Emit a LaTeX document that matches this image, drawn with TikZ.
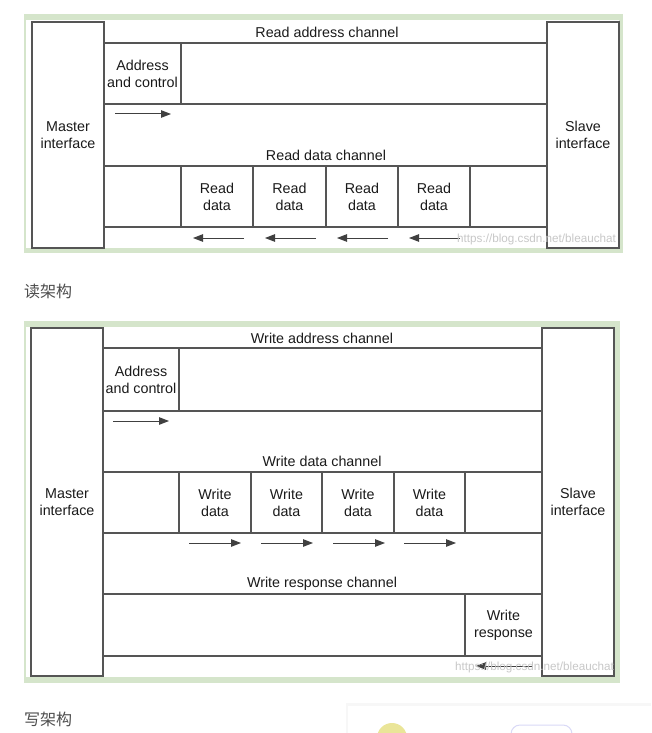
\documentclass[tikz,border=0pt]{standalone}
\usepackage{fontspec}
\setmainfont{Liberation Sans}
\newfontfamily\cjk{Noto Sans CJK SC}
\usetikzlibrary{arrows.meta}
\definecolor{framegreen}{HTML}{D5E5CB}
\definecolor{linec}{HTML}{555555}
\definecolor{txt}{HTML}{1A1A1A}
\definecolor{captc}{HTML}{4D4D4D}
\definecolor{wmark}{HTML}{C8C8C8}
\newcommand{\fs}{\fontsize{14.3}{17.2}\selectfont}
\tikzset{
  box/.style={draw=linec, line width=1.2pt, inner sep=0pt, align=center, font=\fs, text=txt},
  lbl/.style={inner sep=0pt, font=\fs, text=txt},
  arr/.style={draw=black!75, line width=1pt, -{Triangle[length=10pt,width=7.5pt]}},
  caption/.style={inner sep=0pt, anchor=west, font=\cjk\fontsize{16}{19}\selectfont, text=captc},
  watermark/.style={inner sep=0pt, anchor=west, font=\fontsize{11.7}{14}\selectfont, text=wmark}
}
\begin{document}
\begin{tikzpicture}[x=1pt,y=-1pt]
\useasboundingbox (0,0) rectangle (651,733);
\fill[white] (0,0) rectangle (651,733);

% ---------------- Read architecture ----------------
\fill[framegreen] (24,14) rectangle (623,253);
\fill[white] (26,20) rectangle (619,248);

\node[box, minimum width=72pt, minimum height=226pt] (rm) at (68,135) {Master\\interface};
\node[box, minimum width=72pt, minimum height=226pt] (rs) at (583,135) {Slave\\interface};

\node[lbl] (rat) at (327,32) {Read address channel};
\node[box, minimum width=443pt, minimum height=61pt] (rar) at (325.5,73.5) {};
\node[box, minimum width=77pt, minimum height=61pt] (rac) at (142.5,73.5) {Address\\and control};

\node[lbl] (rdt) at (326,155.5) {Read data channel};
\node[box, minimum width=443pt, minimum height=61pt] (rdr) at (325.5,196.5) {};
\node[box, minimum width=72pt, minimum height=61pt] (rd1) at (217,196.5) {Read\\data};
\node[box, minimum width=73pt, minimum height=61pt] (rd2) at (289.5,196.5) {Read\\data};
\node[box, minimum width=72pt, minimum height=61pt] (rd3) at (362,196.5) {Read\\data};
\node[box, minimum width=72pt, minimum height=61pt] (rd4) at (434,196.5) {Read\\data};

\coordinate (ra0) at (115,114);
\coordinate (ra1) at (171,114);
\draw[arr] (ra0) -- (ra1);
\foreach \i/\x in {1/193,2/265,3/337,4/409}{
  \coordinate (rdh\i) at (\x,238);
  \coordinate (rdt\i) at (\x+51,238);
  \draw[arr] (rdt\i) -- (rdh\i);
}
\node[watermark] (wm1) at (457,239) {https://blog.csdn.net/bleauchat};

\node[caption] (cap1) at (24,291) {读架构};

% ---------------- Write architecture ----------------
\fill[framegreen] (24,321) rectangle (620,683);
\fill[white] (26,327) rectangle (614,677);

\node[box, minimum width=72pt, minimum height=348pt] (wm) at (67,502) {Master\\interface};
\node[box, minimum width=72pt, minimum height=348pt] (ws) at (578,502) {Slave\\interface};

\node[lbl] (wat) at (322,338) {Write address channel};
\node[box, minimum width=439pt, minimum height=63pt] (war) at (322.5,379.5) {};
\node[box, minimum width=76pt, minimum height=63pt] (wac) at (141,379.5) {Address\\and control};

\node[lbl] (wdt) at (322,461) {Write data channel};
\node[box, minimum width=439pt, minimum height=61pt] (wdr) at (322.5,502.5) {};
\node[box, minimum width=72pt, minimum height=61pt] (wd1) at (215,502.5) {Write\\data};
\node[box, minimum width=71pt, minimum height=61pt] (wd2) at (286.5,502.5) {Write\\data};
\node[box, minimum width=72pt, minimum height=61pt] (wd3) at (358,502.5) {Write\\data};
\node[box, minimum width=71pt, minimum height=61pt] (wd4) at (429.5,502.5) {Write\\data};

\node[lbl] (wrt) at (322,584) {Write response channel};
\node[box, minimum width=439pt, minimum height=62pt] (wrr) at (322.5,625) {};
\node[box, minimum width=77pt, minimum height=62pt] (wrb) at (503.5,625) {Write\\response};

\coordinate (wa0) at (113,421);
\coordinate (wa1) at (169,421);
\draw[arr] (wa0) -- (wa1);
\foreach \i/\x in {1/189,2/261,3/333,4/404}{
  \coordinate (wds\i) at (\x,543);
  \coordinate (wde\i) at (\x+52,543);
  \draw[arr] (wds\i) -- (wde\i);
}
\coordinate (wr0) at (532,666);
\coordinate (wr1) at (476,666);
\draw[arr] (wr0) -- (wr1);
\node[watermark] (wm2) at (455,667) {https://blog.csdn.net/bleauchat};

\node[caption] (cap2) at (24,719) {写架构};

% ---------------- partial page card ----------------
\fill[black!3] (346,703) rectangle (651,733);
\fill[white] (348,705.5) rectangle (651,733);
\fill[yellow!45!olive!35!white] (392,738) circle (15);
\draw[draw=black!20!blue!15!white, line width=1pt, rounded corners=9pt] (511,725) rectangle (572,748);
\end{tikzpicture}
\end{document}
